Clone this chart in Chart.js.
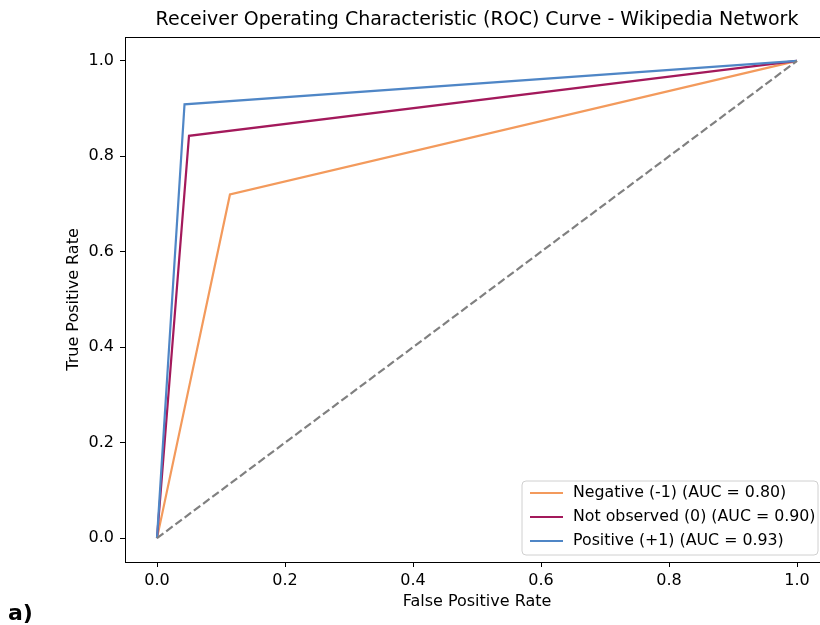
<!DOCTYPE html>
<html>
<head>
<meta charset="utf-8">
<script src="https://cdn.jsdelivr.net/npm/chart.js@4"></script>
<style>
  html, body { margin: 0; padding: 0; background: #fff; overflow: hidden; }
  #wrap { width: 820px; height: 625px; overflow: hidden; position: relative; }
  canvas { display: block; }
</style>
</head>
<body>
<div id="wrap"><canvas id="roc" width="840" height="625"></canvas></div>
<script>
// ROC points per class (false positive rate / true positive rate)
const classNames = ['Negative (-1)', 'Not observed (0)', 'Positive (+1)'];
const fprNeg = [0, 0.114, 1];
const tprNeg = [0, 0.72, 1];
const fprNot = [0, 0.05, 1];
const tprNot = [0, 0.843, 1];
const fprPos = [0, 0.043, 1];
const tprPos = [0, 0.909, 1];
const chanceX = [0, 1];
const chanceY = [0, 1];
const tickVals = [0, 0.2, 0.4, 0.6, 0.8, 1.0];

const colors = ['#f39a5c', '#a3195b', '#4f86c6'];
const FONT = '"DejaVu Sans", sans-serif';

const toPoints = (xs, ys) => xs.map((x, i) => ({ x: x, y: ys[i] }));

// area under the curve with the trapezoid rule
const auc = (xs, ys) => {
    let s = 0;
    for (let i = 1; i < xs.length; i++) s += (xs[i] - xs[i - 1]) * (ys[i] + ys[i - 1]) / 2;
    return s;
};

const curves = [[fprNeg, tprNeg], [fprNot, tprNot], [fprPos, tprPos]];
const labels = curves.map((c, i) => `${classNames[i]} (AUC = ${auc(c[0], c[1]).toFixed(2)})`);

const datasets = curves.map((c, i) => ({
    label: labels[i],
    data: toPoints(c[0], c[1]),
    borderColor: colors[i],
    borderWidth: 2.2,
    pointRadius: 0,
    tension: 0,
    fill: false,
    order: 3 - i
}));
datasets.push({
    label: 'chance',
    data: toPoints(chanceX, chanceY),
    borderColor: '#808080',
    borderWidth: 2.2,
    borderDash: [8, 3.5],
    pointRadius: 0,
    fill: false,
    order: 0
});

// frame, titles and legend box
const decor = {
    id: 'decor',
    afterDraw(chart) {
        const ctx = chart.ctx;
        const a = chart.chartArea;
        const cx = (a.left + a.right) / 2;
        ctx.save();

        ctx.strokeStyle = '#000';
        ctx.lineWidth = 1;
        ctx.strokeRect(a.left + 0.5, a.top + 0.5, a.right - a.left, a.bottom - a.top);

        ctx.fillStyle = '#000';
        ctx.textAlign = 'center';
        ctx.textBaseline = 'middle';
        ctx.font = '19px ' + FONT;
        ctx.fillText('Receiver Operating Characteristic (ROC) Curve - Wikipedia Network', cx, 20);

        ctx.font = '16px ' + FONT;
        ctx.fillText('False Positive Rate', cx, 602);

        ctx.save();
        ctx.translate(74, (a.top + a.bottom) / 2);
        ctx.rotate(-Math.PI / 2);
        ctx.fillText('True Positive Rate', 0, 0);
        ctx.restore();

        ctx.textAlign = 'left';
        ctx.font = 'bold 22px ' + FONT;
        ctx.fillText('a)', 8, 614);

        // legend
        const lx = 522, ly = 481, lw = 296, lh = 74, r = 4;
        ctx.beginPath();
        ctx.moveTo(lx + r, ly);
        ctx.arcTo(lx + lw, ly, lx + lw, ly + lh, r);
        ctx.arcTo(lx + lw, ly + lh, lx, ly + lh, r);
        ctx.arcTo(lx, ly + lh, lx, ly, r);
        ctx.arcTo(lx, ly, lx + lw, ly, r);
        ctx.closePath();
        ctx.fillStyle = 'rgba(255,255,255,0.8)';
        ctx.fill();
        ctx.strokeStyle = '#d0d0d0';
        ctx.lineWidth = 1;
        ctx.stroke();

        ctx.font = '15.8px ' + FONT;
        ctx.textBaseline = 'middle';
        labels.forEach((t, i) => {
            const y = 493 + i * 24;
            ctx.strokeStyle = colors[i];
            ctx.lineWidth = 2.2;
            ctx.beginPath();
            ctx.moveTo(530, y);
            ctx.lineTo(563, y);
            ctx.stroke();
            ctx.fillStyle = '#000';
            ctx.fillText(t, 573, y);
        });
        ctx.restore();
    }
};

const tickFix = scale => { scale.ticks = tickVals.map(v => ({ value: v })); };

new Chart(document.getElementById('roc'), {
    type: 'line',
    data: { datasets: datasets },
    options: {
        responsive: false,
        animation: false,
        layout: { padding: { top: 37, right: 11, left: 0, bottom: 0 } },
        plugins: { legend: { display: false }, tooltip: { enabled: false }, title: { display: false } },
        scales: {
            x: {
                type: 'linear',
                min: -0.05,
                max: 1.05,
                afterBuildTicks: tickFix,
                afterFit: s => { s.height = 63; },
                border: { display: false },
                grid: { drawOnChartArea: false, drawTicks: true, tickLength: 5, color: '#000' },
                ticks: { padding: 4, color: '#000', font: { family: FONT, size: 16 }, callback: v => v.toFixed(1), maxRotation: 0 }
            },
            y: {
                type: 'linear',
                min: -0.05,
                max: 1.05,
                afterBuildTicks: tickFix,
                afterFit: s => { s.width = 125; },
                border: { display: false },
                grid: { drawOnChartArea: false, drawTicks: true, tickLength: 5, color: '#000' },
                ticks: { padding: 6, color: '#000', font: { family: FONT, size: 16 }, callback: v => v.toFixed(1) }
            }
        }
    },
    plugins: [decor]
});
</script>
</body>
</html>
